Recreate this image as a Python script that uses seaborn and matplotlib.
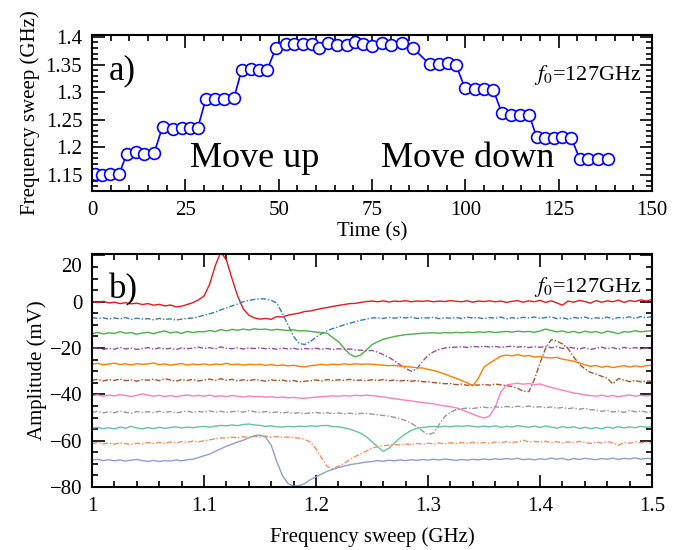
import numpy as np
import pandas as pd
import matplotlib
matplotlib.use("Agg")
import matplotlib.pyplot as plt
import matplotlib.ticker as mticker
import matplotlib.transforms as mtransforms
import seaborn as sns

# ---- panel a) : sweep frequency vs time ----
times = [0.8, 2.6, 4.8, 7.3, 9.3, 11.7, 13.9, 16.6, 18.9, 21.6, 24.0, 26.3, 28.3,
         30.5, 33.0, 35.4, 38.0, 40.1, 42.5, 44.7, 46.9, 49.3, 51.9, 54.2, 56.6,
         59.0, 60.8, 63.3, 65.5, 68.2, 70.5, 72.7, 75.1, 77.6, 80.0, 83.1, 85.9,
         90.4, 93.0, 95.3, 97.5, 99.9, 102.6, 105.0, 107.5, 109.8, 112.3, 114.6,
         117.1, 119.1, 121.3, 123.8, 126.0, 128.4, 130.7, 132.9, 135.4, 138.2]
sweep = [1.152, 1.150, 1.152, 1.152, 1.188, 1.192, 1.188, 1.189, 1.2375, 1.233,
         1.2346, 1.2346, 1.2346, 1.2877, 1.2877, 1.2877, 1.289, 1.3402, 1.3414,
         1.3402, 1.3402, 1.3807, 1.3868, 1.3868, 1.3868, 1.3868, 1.3807, 1.3886,
         1.3855, 1.3855, 1.3915, 1.3868, 1.3837, 1.3886, 1.3855, 1.3886, 1.3806,
         1.3505, 1.3505, 1.3523, 1.3493, 1.307, 1.3052, 1.3052, 1.304, 1.2618,
         1.2587, 1.2587, 1.2587, 1.2183, 1.2165, 1.2165, 1.2183, 1.2165, 1.1784,
         1.1784, 1.1784, 1.1784]

# ---- panel b) : amplitude traces, one value every 0.005 GHz from 1.0 to 1.5 ----
freq = np.round(np.linspace(1.0, 1.5, 101), 3)

tr_red = [0.0, -0.3, 0.2, -0.5, -0.2, -0.8, -0.4, -0.9, -0.6, -1.2,
          -0.8, -1.5, -1.1, -1.8, -1.4, -2.2, -1.9, -1.2, -0.4, 0.8,
          2.5, 7.5, 15.5, 21.5, 18.0, 10.0, 2.5, -3.0, -5.8, -7.0,
          -7.5, -7.2, -7.6, -6.4, -6.6, -5.8, -5.3, -4.9, -4.2, -4.0,
          -3.4, -2.9, -2.5, -2.0, -1.6, -1.2, -0.8, -0.7, -0.3, 0.1,
          0.3, 0.0, 0.4, -0.1, 0.3, 0.1, 0.5, 0.0, 0.3, 0.2,
          0.4, 0.0, 0.3, 0.1, 0.5, 0.2, 0.0, 0.4, -0.2, 0.3,
          0.1, 0.4, 0.0, 0.3, -0.3, 0.2, 0.5, -0.2, 0.4, 0.0,
          0.6, -0.3, 0.4, -0.5, -1.5, 0.3, -0.2, 0.6, 0.1, -0.6,
          0.5, -0.2, 0.4, 0.0, 0.7, -0.3, 0.5, 0.1, 0.8, 0.3,
          1.0]
tr_blue = [-6.8, -7.2, -6.9, -7.5, -7.0, -7.4, -6.8, -7.6, -7.1, -7.5,
           -7.3, -7.8, -7.2, -7.6, -7.4, -7.9, -7.5, -7.2, -7.0, -6.5,
           -5.8, -5.2, -4.5, -3.5, -2.7, -1.8, -1.0, 0.0, 0.6, 1.0,
           1.3, 1.2, 0.6, -0.6, -5.0, -10.0, -15.0, -18.0, -18.5, -17.2,
           -15.3, -13.8, -12.5, -11.6, -10.8, -10.0, -9.3, -8.6, -8.0, -7.5,
           -7.0, -6.9, -7.2, -6.8, -7.1, -6.7, -7.0, -6.6, -7.2, -6.9,
           -7.0, -6.7, -7.3, -6.9, -7.1, -6.8, -7.2, -6.7, -7.0, -6.9,
           -7.3, -6.8, -7.1, -6.6, -7.4, -6.9, -7.2, -6.7, -7.0, -6.6,
           -7.2, -6.8, -6.5, -7.3, -6.9, -7.5, -6.8, -7.1, -6.6, -7.4,
           -6.9, -7.2, -6.6, -7.5, -6.8, -7.0, -6.5, -7.2, -6.4, -6.9,
           -6.3]
tr_green = [-13.8, -13.2, -13.9, -13.4, -13.7, -12.9, -13.6, -13.3, -14.0, -13.5,
            -13.2, -13.8, -13.1, -12.6, -13.5, -13.0, -13.7, -12.8, -13.3, -12.9,
            -13.0, -12.4, -12.9, -12.0, -12.6, -11.9, -12.3, -11.8, -12.2, -11.7,
            -12.0, -11.8, -12.3, -11.9, -12.2, -12.4, -12.1, -12.6, -12.5, -12.8,
            -13.1, -13.3, -13.6, -15.5, -17.2, -20.0, -22.6, -23.8, -23.0, -20.8,
            -18.5, -17.3, -16.2, -15.6, -15.0, -14.6, -14.2, -14.0, -13.8, -13.6,
            -13.5, -13.4, -13.6, -13.3, -13.5, -13.2, -13.4, -13.1, -13.3, -13.0,
            -13.2, -12.9, -13.3, -13.0, -12.8, -13.1, -12.7, -13.0, -12.8, -13.2,
            -12.6, -11.8, -12.4, -13.0, -12.6, -13.3, -12.8, -13.5, -12.7, -13.2,
            -12.9, -13.6, -12.7, -13.2, -13.8, -12.9, -13.1, -12.5, -13.0, -12.7,
            -12.6]
tr_purple = [-20.3, -19.8, -20.6, -20.1, -20.5, -19.7, -20.4, -20.0, -20.6, -20.2,
             -19.8, -20.5, -19.9, -20.4, -20.1, -20.7, -19.9, -20.3, -20.0, -19.6,
             -20.2, -19.8, -20.4, -19.5, -20.1, -20.3, -19.9, -20.4, -20.0, -20.2,
             -19.9, -20.3, -20.1, -20.5, -20.0, -20.4, -20.1, -20.6, -20.2, -20.4,
             -20.1, -20.5, -20.2, -20.6, -20.3, -20.5, -20.4, -20.8, -20.9, -21.2,
             -21.0, -21.8, -22.8, -24.0, -25.5, -27.2, -28.8, -30.0, -29.0, -25.8,
             -23.2, -21.6, -20.6, -20.0, -19.7, -19.6, -19.4, -19.7, -19.3, -19.5,
             -19.2, -19.6, -19.3, -19.7, -19.4, -19.2, -19.6, -19.3, -19.8, -19.4,
             -19.7, -19.2, -19.9, -19.4, -20.2, -19.5, -20.0, -20.4, -19.8, -20.6,
             -20.1, -19.6, -20.3, -19.8, -20.5, -19.7, -20.2, -19.8, -20.4, -20.0,
             -20.5]
tr_orange = [-27.0, -26.6, -27.2, -26.9, -26.5, -27.1, -26.8, -27.3, -26.7, -27.0,
             -26.9, -26.4, -27.2, -26.8, -27.4, -27.0, -26.7, -27.3, -26.9, -27.2,
             -26.8, -27.3, -26.9, -27.1, -26.6, -27.2, -26.9, -27.4, -27.0, -27.2,
             -27.0, -27.5, -27.1, -27.6, -27.3, -27.7, -27.4, -27.9, -28.1, -27.6,
             -27.4, -27.0, -27.3, -26.9, -27.2, -26.8, -27.1, -26.8, -27.0, -26.9,
             -27.0, -27.2, -27.4, -27.6, -27.5, -27.8, -28.0, -28.2, -28.5, -28.6,
             -29.2, -29.7, -30.4, -31.2, -32.2, -33.0, -34.0, -35.0, -36.3, -33.0,
             -28.2, -26.5, -25.0, -23.5, -23.0, -23.4, -22.8, -23.5, -23.2, -23.9,
             -23.6, -24.1, -24.3, -24.0, -24.8, -25.2, -25.7, -26.4, -27.2, -27.9,
             -27.5, -28.3, -27.8, -28.4, -28.0, -27.6, -28.2, -27.7, -28.1, -27.6,
             -27.4]
tr_brown = [-33.9, -33.5, -34.2, -33.6, -34.0, -33.3, -34.1, -33.8, -34.3, -33.6,
            -33.9, -33.4, -34.1, -33.2, -33.8, -34.3, -33.6, -34.0, -33.5, -34.2,
            -33.8, -33.4, -34.0, -33.2, -33.9, -33.5, -34.2, -33.7, -34.1, -33.6,
            -33.9, -34.3, -33.7, -34.1, -33.8, -34.4, -34.0, -34.6, -34.3, -34.1,
            -33.8, -34.2, -33.6, -34.0, -33.7, -33.9, -33.5, -34.0, -33.8, -34.1,
            -33.7, -34.0, -33.6, -34.1, -33.8, -34.2, -33.9, -34.3, -34.0, -34.5,
            -34.6, -34.9, -35.1, -35.4, -35.3, -35.8, -35.6, -36.1, -35.9, -36.0,
            -35.7, -36.0, -35.5, -35.9, -36.2, -36.6, -37.4, -38.6, -38.8, -33.5,
            -26.5, -20.0, -16.4, -17.0, -18.2, -20.2, -23.8, -27.0, -29.0, -30.5,
            -31.2, -32.2, -33.0, -35.5, -33.2, -33.8, -34.5, -34.0, -34.6, -34.2,
            -34.4]
tr_pink = [-40.6, -40.2, -40.8, -40.3, -40.7, -40.1, -40.5, -40.9, -40.4, -39.8,
           -40.3, -40.8, -40.4, -40.9, -40.5, -41.0, -40.6, -40.2, -40.7, -40.4,
           -40.8, -40.3, -40.9, -40.6, -41.0, -40.5, -40.8, -41.2, -40.7, -41.0,
           -40.9, -41.2, -41.0, -41.4, -41.1, -41.5, -41.3, -41.6, -41.7, -41.4,
           -41.2, -41.0, -40.8, -40.6, -40.8, -40.5, -40.7, -40.4, -40.6, -40.3,
           -40.5, -40.8, -41.1, -41.5, -41.8, -42.2, -42.5, -42.8, -43.2, -43.5,
           -43.8, -44.1, -44.6, -45.0, -45.3, -45.8, -46.6, -47.6, -48.5, -49.5,
           -50.2, -49.3, -45.5, -39.0, -36.0, -35.5, -35.2, -35.6, -35.3, -35.8,
           -35.5, -36.3, -37.0, -37.6, -38.2, -38.8, -39.4, -39.7, -40.2, -40.5,
           -40.8, -40.3, -40.9, -40.5, -41.0, -40.6, -40.2, -40.8, -40.4, -40.7,
           -40.3]
tr_grey = [-47.8, -47.3, -48.0, -47.5, -47.9, -47.2, -47.7, -48.1, -47.4, -47.8,
           -47.5, -47.9, -47.3, -47.8, -47.4, -48.0, -47.6, -47.2, -47.8, -47.4,
           -47.6, -47.1, -47.7, -47.3, -47.8, -47.5, -47.2, -47.7, -47.0, -47.5,
           -47.8, -47.4, -47.9, -47.6, -48.0, -47.7, -48.2, -47.9, -48.3, -48.0,
           -47.8, -48.2, -47.9, -48.3, -48.0, -48.4, -48.1, -48.5, -48.2, -48.3,
           -48.5, -48.8, -49.1, -49.4, -49.9, -50.5, -51.3, -52.5, -53.9, -55.8,
           -57.4, -56.6, -53.0, -49.5, -47.8, -46.6, -46.2, -45.9, -46.1, -45.7,
           -45.5, -45.9, -45.3, -45.7, -45.2, -45.6, -45.1, -45.5, -45.0, -45.6,
           -45.3, -45.8, -45.4, -46.0, -45.6, -46.2, -45.8, -46.4, -46.0, -46.6,
           -46.8, -47.3, -46.9, -47.6, -47.2, -47.8, -46.9, -47.5, -47.1, -47.7,
           -47.4]
tr_teal = [-54.6, -54.2, -54.8, -54.4, -54.9, -54.1, -54.6, -53.8, -54.5, -54.9,
           -54.3, -54.8, -54.2, -54.7, -54.3, -54.0, -54.5, -54.1, -54.4, -54.0,
           -53.8, -54.2, -53.7, -53.4, -53.6, -53.2, -53.5, -53.0, -52.8, -53.2,
           -53.4, -53.8, -53.6, -54.0, -54.1, -53.8, -54.0, -53.7, -53.9, -53.6,
           -53.8, -53.5, -53.4, -53.9, -54.0, -54.4, -55.0, -55.8, -56.8, -58.3,
           -60.5, -62.6, -64.6, -63.3, -61.0, -58.8, -57.0, -55.6, -54.6, -54.3,
           -54.0, -53.8, -54.1, -53.7, -54.0, -53.6, -53.9, -53.5, -53.8, -54.1,
           -53.7, -54.0, -53.6, -54.2, -53.8, -54.1, -53.5, -53.9, -54.2, -53.7,
           -54.3, -53.6, -54.1, -54.6, -53.9, -54.4, -54.0, -54.7, -54.2, -54.8,
           -54.3, -54.9, -54.1, -54.6, -53.9, -54.5, -54.0, -54.4, -53.8, -54.2,
           -53.9]
tr_salmon = [-61.2, -60.8, -61.4, -61.0, -61.5, -60.9, -61.3, -61.6, -61.1, -61.4,
             -60.8, -61.2, -60.7, -61.1, -60.6, -60.9, -60.4, -60.7, -60.2, -60.5,
             -60.0, -59.6, -59.2, -58.8, -58.9, -58.5, -58.7, -58.3, -58.6, -58.1,
             -58.4, -58.0, -58.5, -58.2, -58.6, -58.4, -58.7, -58.9, -59.5, -60.6,
             -63.5, -67.5, -71.2, -72.0, -71.0, -69.8, -68.2, -66.8, -65.6, -64.5,
             -63.2, -62.6, -62.2, -61.9, -61.6, -61.8, -61.4, -61.7, -61.2, -61.5,
             -61.1, -61.4, -61.0, -61.3, -60.9, -61.2, -60.8, -61.1, -60.7, -61.0,
             -60.8, -61.2, -60.6, -60.9, -60.4, -60.8, -60.5, -59.8, -60.6, -60.3,
             -60.7, -60.2, -60.9, -60.4, -61.0, -60.5, -60.8, -60.3, -60.7, -61.2,
             -60.6, -61.0, -60.4, -60.9, -62.0, -60.7, -61.1, -60.5, -60.9, -60.6,
             -61.0]
tr_lilac = [-68.4, -68.0, -68.6, -68.2, -68.7, -68.3, -68.8, -68.4, -68.1, -68.6,
            -68.9, -68.5, -69.0, -68.6, -68.8, -68.3, -68.7, -68.2, -68.0, -67.3,
            -66.5, -65.8, -64.6, -63.5, -62.4, -61.5, -60.6, -59.8, -58.8, -57.8,
            -57.6, -58.4, -62.0, -69.0, -75.0, -78.5, -79.6, -79.4, -78.5, -76.8,
            -75.6, -74.4, -73.2, -72.4, -71.6, -71.0, -70.4, -70.0, -69.6, -69.2,
            -69.0, -68.6, -68.9, -68.4, -68.7, -68.3, -68.6, -68.2, -68.5, -68.1,
            -68.4, -68.0, -68.3, -67.9, -68.2, -68.5, -68.1, -68.4, -68.0, -68.3,
            -67.9, -68.2, -67.8, -68.1, -67.7, -68.0, -67.6, -68.2, -67.9, -68.3,
            -67.8, -68.1, -67.5, -68.0, -67.6, -68.3, -67.7, -68.1, -67.6, -67.9,
            -68.2, -67.7, -68.0, -67.5, -68.1, -67.6, -67.9, -67.4, -68.0, -67.6,
            -67.8]

traces = [tr_red, tr_blue, tr_green, tr_purple, tr_orange, tr_brown,
          tr_pink, tr_grey, tr_teal, tr_salmon, tr_lilac]
trace_names = ["t%02d" % i for i in range(len(traces))]

# Set1 without the yellow, then the first three of Set2
set1 = sns.color_palette("Set1", 9)
set2 = sns.color_palette("Set2", 3)
colors = [set1[0], set1[1], set1[2], set1[3], set1[4], set1[6], set1[7], set1[8],
          set2[0], set2[1], set2[2]]

df = pd.concat([pd.DataFrame({"freq": freq, "amp": tr, "trace": name})
                for tr, name in zip(traces, trace_names)], ignore_index=True)

# ---- style ----
sns.set_style("ticks")
plt.rcParams["font.family"] = ["Liberation Serif", "DejaVu Serif"]
plt.rcParams["mathtext.fontset"] = "stix"
plt.rcParams["axes.linewidth"] = 1.5
plt.rcParams["text.color"] = "black"
plt.rcParams["axes.labelcolor"] = "black"
plt.rcParams["xtick.color"] = "black"
plt.rcParams["ytick.color"] = "black"
plt.rcParams["axes.edgecolor"] = "black"

fig = plt.figure(figsize=(6.87, 5.5), dpi=100)
ax1 = fig.add_axes([0.1339, 0.6527, 0.8152, 0.2836])
ax2 = fig.add_axes([0.1339, 0.1145, 0.8152, 0.4236])

# panel a
sns.lineplot(x=times, y=sweep, ax=ax1, color="blue", linewidth=1.2,
             marker="o", markersize=8.5, markerfacecolor="white",
             markeredgecolor="blue", markeredgewidth=1.2)
ax1.set_xlim(0, 150)
ax1.set_ylim(1.121, 1.4035)
ax1.xaxis.set_major_locator(mticker.MultipleLocator(25))
ax1.xaxis.set_minor_locator(mticker.MultipleLocator(5))
ax1.yaxis.set_major_locator(mticker.FixedLocator([1.15, 1.2, 1.25, 1.3, 1.35, 1.4]))
ax1.yaxis.set_minor_locator(mticker.MultipleLocator(0.01))
ax1.yaxis.set_major_formatter(mticker.StrMethodFormatter("{x:g}"))
ax1.set_xlabel("Time (s)", fontsize=15, labelpad=2)
ax1.set_ylabel("Frequency sweep (GHz)", fontsize=15, labelpad=4)
ax1.text(0.03, 0.77, "a)", transform=ax1.transAxes, fontsize=25, va="center")
ax1.text(0.175, 0.21, "Move up", transform=ax1.transAxes, fontsize=26, va="center")
ax1.text(0.516, 0.21, "Move down", transform=ax1.transAxes, fontsize=26, va="center")
ax1.text(0.982, 0.745, r"$f_{\mathit{0}}$=127GHz", transform=ax1.transAxes,
         fontsize=16, ha="right", va="center")

# panel b
dash_map = {name: ("" if i % 2 == 0 else (4, 1.4, 1, 1.4)) for i, name in enumerate(trace_names)}
sns.lineplot(data=df, x="freq", y="amp", hue="trace", style="trace",
             palette=colors, dashes=dash_map, linewidth=1.0, legend=False,
             sort=False, ax=ax2)
ax2.set_xlim(1.0, 1.5)
ax2.set_ylim(-80, 20.6)
ax2.xaxis.set_major_locator(mticker.MultipleLocator(0.1))
ax2.xaxis.set_minor_locator(mticker.MultipleLocator(0.02))
ax2.xaxis.set_major_formatter(mticker.StrMethodFormatter("{x:g}"))
ax2.yaxis.set_major_locator(mticker.FixedLocator([-80, -60, -40, -20, 0, 20]))
ax2.yaxis.set_minor_locator(mticker.MultipleLocator(5))
ax2.set_xlabel("Frequency sweep (GHz)", fontsize=15, labelpad=8)
ax2.set_ylabel("Amplitude (mV)", fontsize=15, labelpad=2)
ax2.text(0.03, 0.845, "b)", transform=ax2.transAxes, fontsize=25, va="center")
ax2.text(0.982, 0.86, r"$f_{\mathit{0}}$=127GHz", transform=ax2.transAxes,
         fontsize=16, ha="right", va="center")

for ax in (ax1, ax2):
    ax.tick_params(which="both", direction="in", top=True, right=True,
                   labelsize=15, width=1.2, colors="black")
    ax.tick_params(which="major", length=9, pad=7)
    ax.tick_params(which="minor", length=4.5)
    for sp in ax.spines.values():
        sp.set_color("black")

# the "20" label sits a bit below its tick in the original
top_tick = ax2.yaxis.get_major_ticks()[-1]
top_tick.label1.set_transform(top_tick.label1.get_transform() +
                              mtransforms.ScaledTranslation(0, -0.1, fig.dpi_scale_trans))

fig.savefig("out.png", dpi=100)
